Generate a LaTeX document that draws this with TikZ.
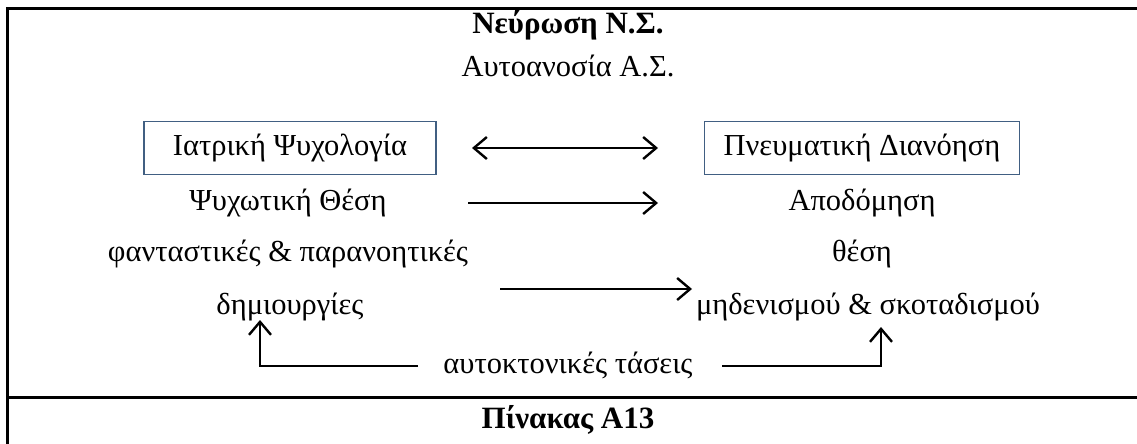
\documentclass[tikz,border=0pt]{standalone}
\usepackage{fontspec}
\setmainfont{Liberation Serif}
\usetikzlibrary{arrows.meta}
\definecolor{boxblue}{RGB}{65,95,130}
\begin{document}
\begin{tikzpicture}[x=1pt,y=-1pt,
  txt/.style={anchor=base,inner sep=0pt,font=\fontsize{30.5}{36}\selectfont},
  btxt/.style={anchor=base,inner sep=0pt,font=\fontsize{31}{36}\selectfont\bfseries},
  framebox/.style={draw=boxblue,line width=1.6pt,minimum width=#1,minimum height=53pt,inner sep=0pt,font=\fontsize{30.5}{36}\selectfont},
  rule/.style={line width=3pt,black},
  conn/.style={line width=2.4pt,-{Straight Barb[length=13pt,width=22pt,line width=2.4pt]}},
  dconn/.style={line width=2.4pt,{Straight Barb[length=13pt,width=22pt,line width=2.4pt]}-{Straight Barb[length=13pt,width=22pt,line width=2.4pt]}}]
\useasboundingbox (0,0) rectangle (1137,444);
% frame
\coordinate (tl) at (7.5,8.5);
\coordinate (tr) at (1137,8.5);
\coordinate (bl) at (7.5,444);
\coordinate (sl) at (7.5,397);
\coordinate (sr) at (1137,397);
\draw[rule] (tr) -- (tl) -- (bl);
\draw[rule] (sl) -- (sr);
% texts
\node[btxt] (title) at (568,34) {Νεύρωση Ν.Σ.};
\node[txt] (auto) at (568,76) {Αυτοανοσία Α.Σ.};
\node[framebox=292pt] (iatr) at (290,148) {\raisebox{-1pt}{Ιατρική Ψυχολογία}};
\node[framebox=315pt] (pneu) at (862,148) {\raisebox{-1pt}{Πνευματική Διανόηση}};
\node[txt] (psy) at (288,210) {Ψυχωτική Θέση};
\node[txt] (apod) at (862,210) {Αποδόμηση};
\node[txt] (fant) at (288,261) {φανταστικές \& παρανοητικές};
\node[txt] (thesi) at (862,261) {θέση};
\node[txt] (dimi) at (290,314) {δημιουργίες};
\node[txt] (mide) at (868,314) {μηδενισμού \& σκοταδισμού};
\node[txt] (autok) at (568,373) {αυτοκτονικές τάσεις};
\node[btxt] (pin) at (568,428) {Πίνακας Α13};
% connectors
\coordinate (a1l) at (472,148);
\coordinate (a1r) at (658,148);
\draw[dconn] (a1l) -- (a1r);
\coordinate (a2l) at (468,203);
\coordinate (a2r) at (658,203);
\draw[conn] (a2l) -- (a2r);
\coordinate (a3l) at (500,289);
\coordinate (a3r) at (692,289);
\draw[conn] (a3l) -- (a3r);
\coordinate (b1s) at (418,366);
\coordinate (b1c) at (260,366);
\coordinate (b1e) at (260,320);
\draw[conn] (b1s) -- (b1c) -- (b1e);
\coordinate (b2s) at (722,366);
\coordinate (b2c) at (881,366);
\coordinate (b2e) at (881,327);
\draw[conn] (b2s) -- (b2c) -- (b2e);
\end{tikzpicture}
\end{document}
